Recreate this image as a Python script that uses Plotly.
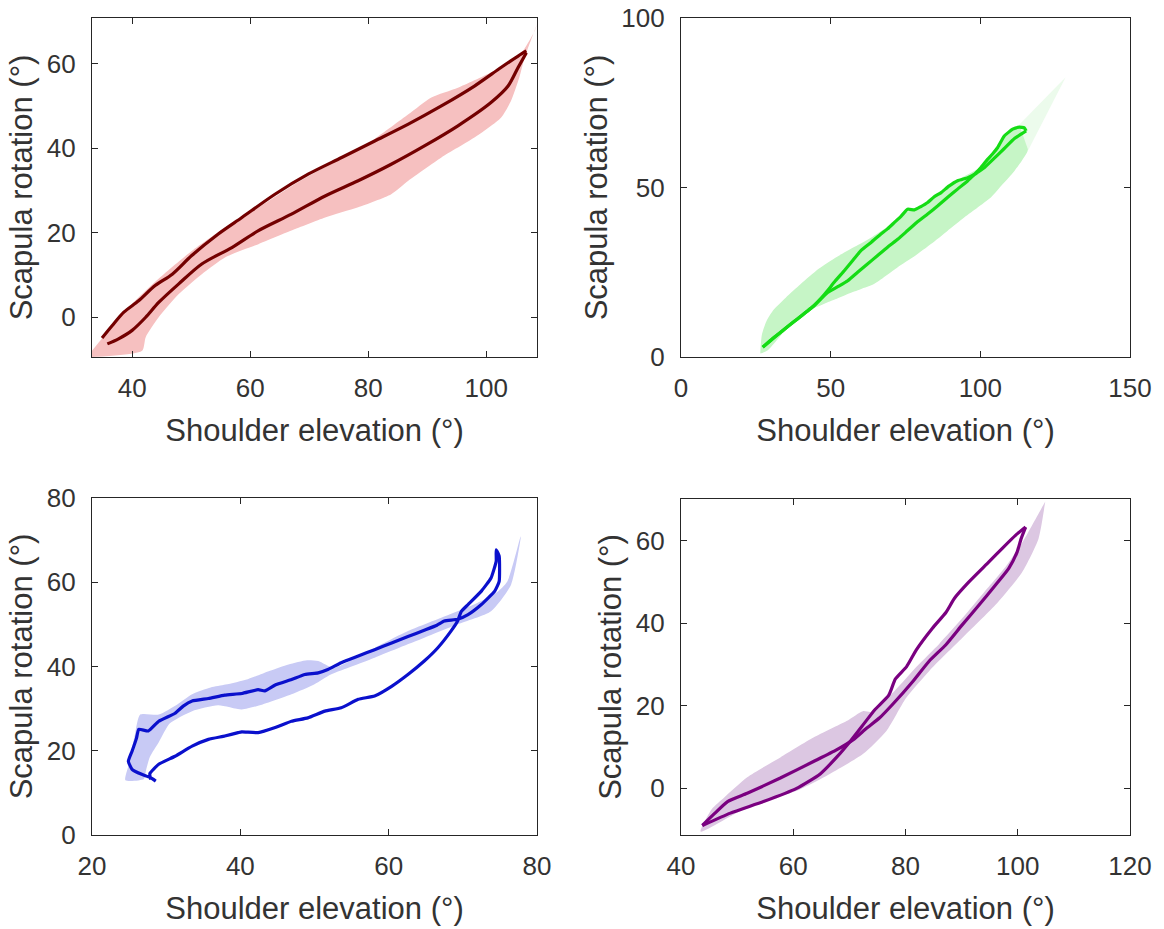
import plotly.graph_objects as go

# ---------------- Panel A (dark red) ----------------
a_up_x = [34.9, 36.6, 38.6, 41.1, 43.9, 46.8, 50.1, 54.6, 58.6, 64.2, 69.9, 75.5, 81.1, 86.8, 92.4, 98.0, 102.5, 105.4, 106.8]
a_up_y = [-4.9, -2.0, 1.2, 3.9, 7.5, 10.2, 14.6, 19.7, 23.6, 29.1, 33.9, 37.8, 41.7, 45.7, 50.0, 54.7, 59.1, 61.8, 63.0]
a_lo_x = [35.8, 37.7, 40.0, 42.3, 44.5, 47.9, 51.8, 56.9, 61.4, 67.0, 72.7, 78.3, 83.9, 89.6, 95.2, 100.8, 103.7, 105.4, 106.8]
a_lo_y = [-6.3, -5.1, -3.1, 0.0, 3.5, 7.9, 12.6, 16.5, 20.5, 24.4, 28.7, 32.3, 36.2, 40.6, 45.3, 50.8, 54.7, 59.1, 62.6]
a_band_top_x = [33.2, 38.9, 44.0, 50.1, 56.0, 62.0, 67.0, 72.0, 77.0, 81.1, 86.8, 90.7, 95.2, 100.8, 105.4, 108.2]
a_band_top_y = [-7.9, 1.6, 8.5, 15.7, 21.5, 26.5, 31.0, 35.0, 38.8, 42.2, 48.0, 52.0, 54.3, 57.9, 61.4, 67.7]
a_band_bot_x = [33.2, 41.7, 42.3, 44.5, 47.9, 51.8, 55.8, 61.4, 67.0, 72.7, 78.3, 83.9, 86.8, 92.4, 98.0, 102.5, 104.2, 105.6, 106.5, 108.6]
a_band_bot_y = [-9.4, -7.9, -4.7, 0.0, 5.5, 10.2, 14.2, 17.3, 20.5, 23.6, 26.0, 29.1, 32.3, 37.8, 42.5, 47.2, 51.2, 56.7, 61.4, 69.3]

# ---------------- Panel B (green) ----------------
b_up_x = [27.3, 30.5, 33.4, 36.5, 39.0, 42.0, 44.5, 47.0, 49.0, 51.5, 54.6, 57.5, 60.1, 63.5, 66.8, 69.0, 71.3, 73.5, 75.7,
          78.0, 80.0, 82.4, 84.5, 86.9, 89.5, 92.4, 95.8, 98.0, 100.2, 102.4, 104.0, 105.8, 108.0, 110.8, 113.0, 114.7, 115.3]
b_up_y = [2.9, 5.4, 7.4, 9.6, 11.3, 13.4, 15.2, 17.5, 19.6, 22.4, 25.5, 28.6, 31.4, 33.8, 36.3, 37.8, 39.7, 41.5, 43.6,
          43.4, 44.3, 45.6, 47.2, 48.5, 50.4, 52.0, 52.9, 53.9, 55.9, 58.3, 59.8, 61.8, 65.2, 67.2, 67.8, 67.6, 66.7]
b_lo_x = [27.3, 33.4, 39.0, 44.5, 49.0, 52.5, 55.7, 59.0, 62.4, 65.5, 69.0, 72.5, 75.7, 79.0, 82.4, 85.8, 89.1, 92.5, 95.8,
          98.0, 101.5, 104.5, 108.0, 111.5, 115.3]
b_lo_y = [2.9, 7.4, 11.3, 15.2, 19.0, 20.8, 22.5, 25.0, 27.5, 29.8, 32.4, 34.8, 37.3, 39.9, 42.2, 44.6, 47.1, 49.6, 52.0,
          53.8, 56.0, 58.5, 61.5, 64.5, 66.7]
b_band_top_x = [26.5, 27.0, 28.5, 31.0, 35.0, 40.0, 46.0, 52.0, 58.0, 64.0, 70.0, 76.0, 82.0, 88.0, 94.0, 100.0, 105.0, 110.0, 114.0, 117.0]
b_band_top_y = [1.5, 6.5, 10.5, 14.0, 17.5, 21.5, 26.0, 29.5, 32.5, 35.5, 39.0, 43.0, 45.5, 49.5, 53.0, 56.0, 61.0, 66.5, 68.5, 68.0]
b_band_bot_x = [26.5, 29.0, 34.0, 39.0, 43.5, 47.9, 51.5, 55.7, 60.0, 64.6, 72.4, 78.0, 83.5, 89.0, 94.7, 99.0, 103.6, 107.5, 111.4, 115.8, 117.0]
b_band_bot_y = [1.0, 2.0, 7.0, 11.3, 14.0, 15.7, 17.0, 18.6, 20.0, 21.6, 26.5, 29.7, 33.3, 37.2, 41.2, 44.0, 47.1, 51.0, 54.9, 60.8, 68.0]
b_tail_top_x = [113.0, 128.5]
b_tail_top_y = [68.5, 82.5]
b_tail_bot_x = [116.0, 128.5]
b_tail_bot_y = [61.0, 82.5]

# ---------------- Panel C (blue) ----------------
c_x = [28.6, 27.8, 26.7, 25.4, 24.9, 25.4, 26.0, 26.3, 27.6, 29.0, 31.2, 32.3, 33.5, 35.7, 37.9, 40.2, 42.4, 43.3, 44.7, 46.9,
       48.7, 50.5, 51.8, 53.6, 55.9, 58.1, 60.4, 62.6, 64.8, 66.5, 67.5, 69.3, 70.7, 72.5, 74.3, 74.9, 74.9, 74.5,
       74.5, 73.8, 72.5, 70.7, 69.8, 69.3, 68.4, 66.6, 64.8, 62.6, 60.4, 58.1, 55.9, 53.6, 51.4, 49.1, 46.9, 44.7,
       42.4, 40.2, 39.7, 37.9, 35.7, 33.5, 31.2, 29.0, 27.8, 27.9]
c_y = [12.8, 13.7, 14.4, 15.6, 17.5, 19.9, 23.0, 25.1, 24.7, 27.0, 28.9, 30.6, 31.8, 32.4, 33.2, 33.6, 34.5, 34.2, 35.6, 36.9,
       38.1, 38.5, 39.3, 40.9, 42.5, 44.0, 45.6, 47.1, 48.6, 49.8, 50.8, 51.2, 52.3, 54.7, 57.9, 60.2, 66.2, 67.7,
       65.0, 61.0, 57.9, 54.7, 53.1, 50.8, 48.4, 44.4, 41.3, 38.1, 35.3, 33.0, 32.2, 30.2, 29.4, 27.8, 27.0, 25.5,
       24.3, 24.5, 24.3, 23.5, 22.7, 21.1, 18.7, 16.8, 14.6, 13.2]
c_band_top_x = [24.5, 25.0, 25.8, 26.5, 29.0, 31.5, 33.5, 36.0, 38.0, 41.0, 44.0, 46.5, 49.0, 50.5, 52.5, 55.0, 58.1, 62.6, 67.0, 71.5, 74.5, 76.0, 77.8]
c_band_top_y = [13.0, 17.0, 24.0, 28.6, 28.6, 31.0, 33.4, 35.0, 35.7, 37.0, 39.0, 40.5, 41.5, 41.3, 39.7, 41.5, 44.4, 48.4, 51.5, 54.7, 57.5, 60.2, 70.9]
c_band_bot_x = [24.5, 27.0, 27.3, 27.8, 29.0, 30.5, 33.5, 37.0, 40.2, 43.0, 46.9, 50.0, 52.2, 55.0, 58.1, 61.5, 64.8, 69.3, 73.8, 76.5, 77.8]
c_band_bot_y = [13.0, 13.3, 15.5, 18.5, 22.0, 26.5, 29.4, 30.8, 29.8, 31.0, 33.4, 35.8, 38.1, 40.0, 42.1, 44.5, 46.8, 50.0, 53.1, 59.4, 70.5]

# ---------------- Panel D (purple) ----------------
d_a_x = [43.8, 45.9, 48.3, 51.8, 57.7, 63.6, 67.7, 70.7, 73.0, 75.4, 77.8, 81.3, 84.2, 87.2, 90.1, 93.1, 96.0, 98.4, 99.9, 100.6, 101.4]
d_a_y = [-9.0, -6.2, -3.2, -1.2, 2.5, 6.5, 9.3, 11.8, 14.5, 17.1, 20.5, 25.9, 30.8, 34.8, 39.6, 44.4, 49.2, 53.3, 57.3, 60.5, 63.3]
d_b_x = [43.8, 48.8, 54.7, 60.6, 64.8, 67.7, 70.2, 72.5, 74.5, 77.0, 78.2, 80.2, 81.9, 84.8, 87.2, 88.7, 91.3, 94.9, 97.2, 99.6, 101.4]
d_b_y = [-9.0, -6.0, -3.2, 0.0, 3.5, 7.5, 11.5, 15.5, 19.0, 22.5, 26.5, 29.5, 33.5, 38.8, 42.6, 46.0, 50.0, 54.9, 58.1, 61.3, 63.3]
d_band_top_x = [43.5, 45.5, 47.7, 51.8, 57.7, 63.6, 69.5, 72.4, 74.0, 78.0, 82.0, 86.0, 90.0, 94.0, 98.0, 101.0, 104.9]
d_band_top_y = [-10.5, -5.0, -2.2, 2.7, 7.5, 12.3, 16.3, 18.7, 18.5, 23.5, 29.5, 35.0, 41.0, 47.5, 54.0, 60.0, 69.5]
d_band_bot_x = [43.5, 51.8, 60.6, 66.5, 72.4, 76.6, 80.1, 84.2, 90.1, 96.0, 100.8, 103.7, 104.9]
d_band_bot_y = [-10.5, -4.6, -0.6, 3.5, 8.3, 13.9, 21.9, 28.4, 36.4, 44.4, 52.4, 60.5, 69.5]

X_TITLE = "Shoulder elevation (°)"
Y_TITLE = "Scapula rotation (°)"

panels = [
    dict(ax="", dom_x=[92, 537], dom_y=[18, 357], xr=[33.2, 108.6], yr=[-9.4, 70.8],
         xt=[40, 60, 80, 100], yt=[0, 20, 40, 60], color="#730000", smooth=0.8,
         bands=[(a_band_top_x, a_band_top_y, a_band_bot_x, a_band_bot_y, "#f6c0c0")],
         lines=[(a_up_x, a_up_y), (a_lo_x, a_lo_y)]),
    dict(ax="2", dom_x=[681, 1130], dom_y=[18, 357], xr=[0, 150], yr=[0, 100],
         xt=[0, 50, 100, 150], yt=[0, 50, 100], color="#14dc14", smooth=0.4,
         bands=[(b_band_top_x, b_band_top_y, b_band_bot_x, b_band_bot_y, "#c6f5c6"),
                (b_tail_top_x, b_tail_top_y, b_tail_bot_x, b_tail_bot_y, "#ecfbec")],
         lines=[(b_up_x, b_up_y), (b_lo_x, b_lo_y)]),
    dict(ax="3", dom_x=[92, 537], dom_y=[498, 835], xr=[20, 80], yr=[0, 80],
         xt=[20, 40, 60, 80], yt=[0, 20, 40, 60, 80], color="#0a10cc", smooth=0.4,
         bands=[(c_band_top_x, c_band_top_y, c_band_bot_x, c_band_bot_y, "#c8caf5")],
         lines=[(c_x, c_y)]),
    dict(ax="4", dom_x=[681, 1130], dom_y=[499, 835], xr=[40, 120], yr=[-11.3, 70.1],
         xt=[40, 60, 80, 100, 120], yt=[0, 20, 40, 60], color="#7a0080", smooth=0.5,
         bands=[(d_band_top_x, d_band_top_y, d_band_bot_x, d_band_bot_y, "#dcc7e2")],
         lines=[(d_a_x, d_a_y), (d_b_x, d_b_y)]),
]

W, H = 1164, 929
FONT = "Liberation Sans, Arial, sans-serif"
TEXT = "#333333"
AXIS = "#262626"

fig = go.Figure()
layout = dict(width=W, height=H, margin=dict(l=0, r=0, t=0, b=0, autoexpand=False),
              paper_bgcolor="white", plot_bgcolor="white", showlegend=False)

for p in panels:
    xa, ya = "x" + p["ax"], "y" + p["ax"]
    for tx, ty, bx, by, col in p["bands"]:
        fig.add_trace(go.Scatter(
            x=list(tx) + list(reversed(bx)), y=list(ty) + list(reversed(by)),
            mode="lines", fill="toself", fillcolor=col,
            line=dict(width=0, shape="spline", smoothing=0.6),
            hoverinfo="skip", xaxis=xa, yaxis=ya))
    for lx, ly in p["lines"]:
        fig.add_trace(go.Scatter(x=lx, y=ly, mode="lines",
                                 line=dict(color=p["color"], width=3.2,
                                           shape="spline", smoothing=p["smooth"]),
                                 xaxis=xa, yaxis=ya))
    x0, x1 = p["dom_x"]
    y0, y1 = p["dom_y"]
    common = dict(showgrid=False, zeroline=False, showline=True, mirror="ticks",
                  linecolor=AXIS, linewidth=1.3, ticks="inside", ticklen=6,
                  tickcolor=AXIS, tickwidth=1, automargin=False,
                  tickfont=dict(family=FONT, size=26, color=TEXT))
    layout["xaxis" + p["ax"]] = dict(
        common, domain=[x0 / W, x1 / W], range=p["xr"], tickvals=p["xt"],
        anchor=ya, ticklabelstandoff=8,
        title=dict(text=X_TITLE, font=dict(family=FONT, size=31, color=TEXT), standoff=16))
    layout["yaxis" + p["ax"]] = dict(
        common, domain=[1 - y1 / H, 1 - y0 / H], range=p["yr"], tickvals=p["yt"],
        anchor=xa, ticklabelstandoff=10,
        title=dict(text=Y_TITLE, font=dict(family=FONT, size=31, color=TEXT), standoff=4))

fig.update_layout(**layout)
fig.write_html("out.html")
